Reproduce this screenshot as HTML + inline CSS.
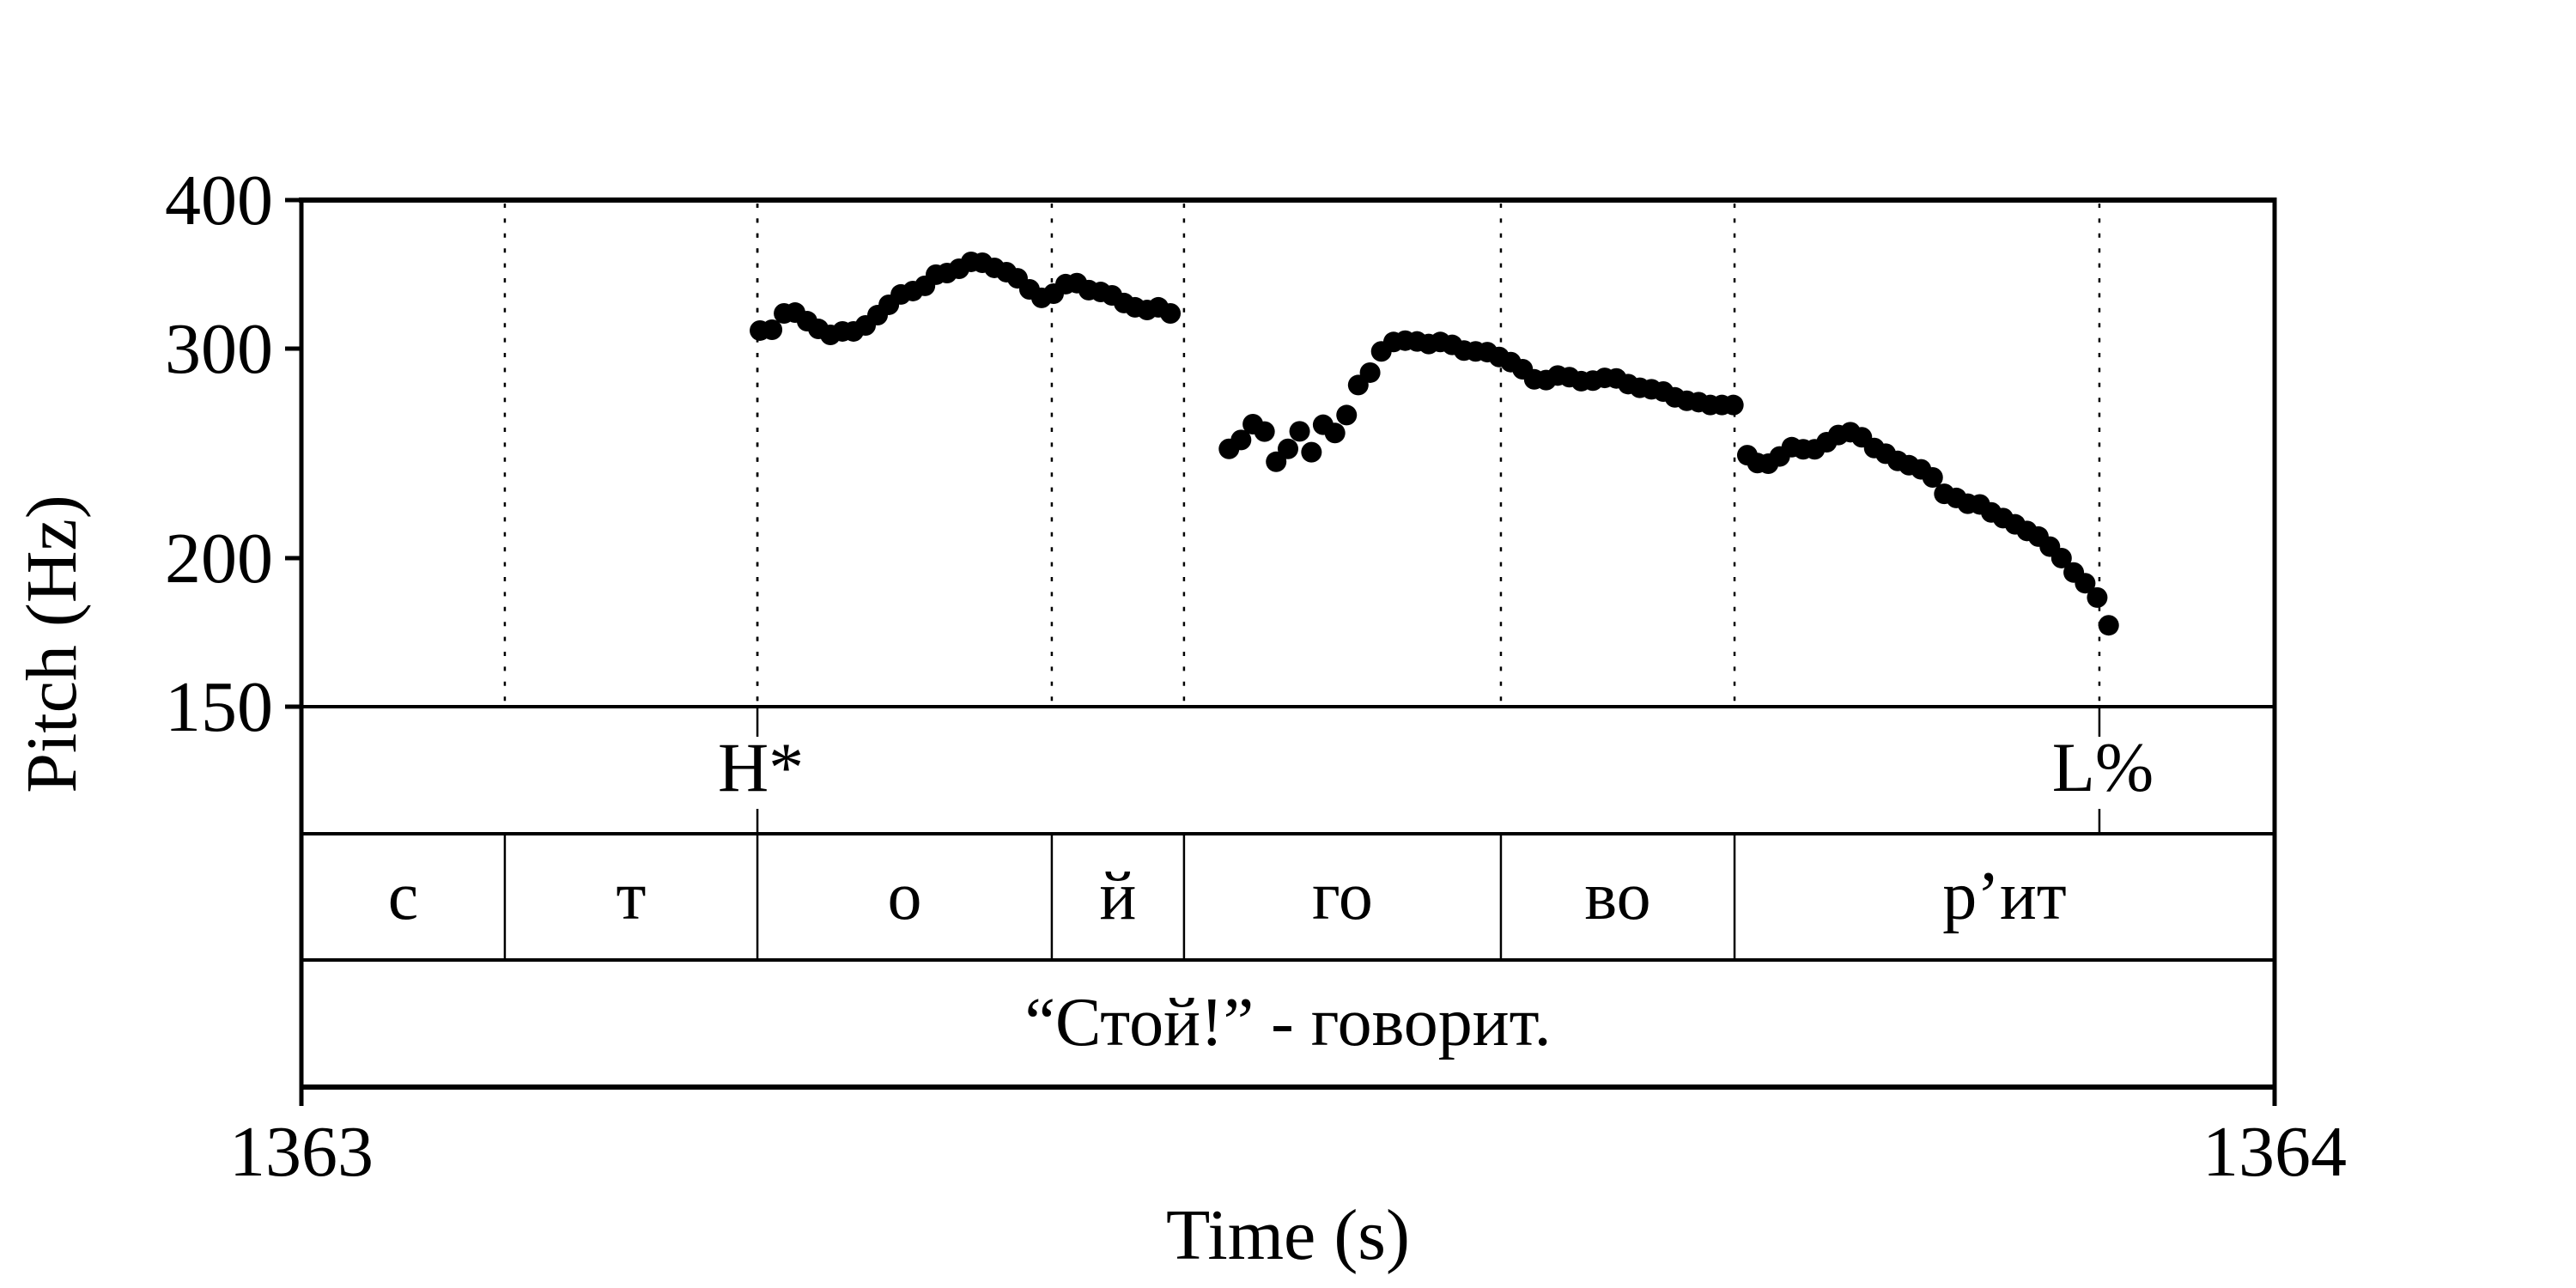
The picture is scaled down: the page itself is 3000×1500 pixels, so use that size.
<!DOCTYPE html>
<html><head><meta charset="utf-8"><style>
html,body{margin:0;padding:0;background:#fff;}
svg{display:block;}
text{font-family:"Liberation Serif","Noto Serif CJK SC",serif;fill:#000;}
</style></head><body>
<svg id="chart" width="3000" height="1500" viewBox="0 0 3000 1500" xmlns="http://www.w3.org/2000/svg">
<g id="frame"></g>
<g id="bounds"></g>
<g id="dots"></g>
<g id="labels"></g>
</svg>
<script>
// ---- data ----
const timeStart = 1363;
const timeEnd = 1364;
const pitchMin = 150;
const pitchMax = 400;
const yTicks = [400, 300, 200, 150];
const xTickLabels = ["1363", "1364"];
const xTicks = [1363, 1364];
// segment boundaries (s offset from 1363)
const segBounds = [0.1031, 0.2311, 0.3803, 0.4473, 0.6079, 0.7263];
const segLabels = ["с", "т", "о", "й", "го", "во", "р’ит"];
const toneTimes = [0.2311, 0.9112];
const toneLabels = ["H*", "L%"];
const sentence = "“Стой!” - говорит.";
// pitch contour: times (s offset) and Hz
const t1 = [0.2324,0.2385,0.2446,0.2502,0.2563,0.2620,0.2681,0.2742,0.2798,0.2859,0.2920,0.2977,0.3038,0.3099,0.3160,0.3216,0.3272,0.3333,0.3394,0.3451,0.3512,0.3573,0.3629,0.3690,0.3751,0.3812,0.3873,0.3930,0.3990,0.4051,0.4108,0.4169,0.4225,0.4286,0.4343,0.4404];
const f1 = [310.7,311.2,321.2,321.7,316.4,311.7,308.1,310.2,310.2,313.8,320.1,326.6,333.2,335.4,338.8,346.2,347.3,350.2,354.9,354.3,350.8,347.9,343.8,336.5,331.0,333.7,339.9,340.6,336.0,334.8,332.6,327.7,325.0,323.3,325.0,321.2];
const t2 = [0.4701,0.4762,0.4822,0.4881,0.4940,0.5000,0.5059,0.5119,0.5178,0.5238,0.5297,0.5356,0.5416,0.5473,0.5535,0.5594,0.5654,0.5713,0.5772,0.5832,0.5892,0.5951,0.6010,0.6070,0.6129,0.6189,0.6248,0.6308,0.6367,0.6426,0.6486,0.6545,0.6605,0.6664,0.6724,0.6783,0.6842,0.6902,0.6961,0.7021,0.7081,0.7140,0.7199,0.7257];
const f2 = [247.1,251.4,259.2,255.5,241.0,247.1,255.6,245.5,258.9,254.8,263.8,279.6,286.4,298.4,303.9,304.7,304.2,302.7,303.9,302.2,298.9,298.4,298.0,295.2,292.3,288.3,282.7,282.3,284.8,283.9,281.7,282.0,283.5,283.2,280.1,278.1,277.3,276.1,273.0,271.2,270.5,269.0,269.0,269.0];
const t3 = [0.7328,0.7379,0.7434,0.7492,0.7553,0.7611,0.7669,0.7730,0.7789,0.7850,0.7908,0.7971,0.8029,0.8090,0.8147,0.8208,0.8267,0.8326,0.8387,0.8445,0.8506,0.8564,0.8624,0.8685,0.8745,0.8803,0.8861,0.8920,0.8982,0.9040,0.9101,0.9159];
const f3 = [244.1,240.4,240.1,243.5,247.9,246.9,246.9,250.3,253.8,255.2,252.7,247.5,244.8,241.4,239.4,237.5,233.8,226.5,224.7,222.2,221.9,218.5,216.1,213.5,210.8,208.5,204.5,200.0,194.5,190.5,185.3,175.6];

// ---- layout ----
const L = 351, R = 2649, T = 233, B = 823;
const tier1 = 971, tier2 = 1118, tier3 = 1266;
const NS = "http://www.w3.org/2000/svg";
function xs(t){ return L + (t - timeStart) / (timeEnd - timeStart) * (R - L); }
function xo(o){ return xs(timeStart + o); }
function ys(f){ return B - Math.log(f / pitchMin) / Math.log(pitchMax / pitchMin) * (B - T); }
function mk(parent, tag, attrs){
  const e = document.createElementNS(NS, tag);
  for (const k in attrs) e.setAttribute(k, attrs[k]);
  parent.appendChild(e); return e;
}
const frame = document.getElementById('frame');
const bounds = document.getElementById('bounds');
const dots = document.getElementById('dots');
const labels = document.getElementById('labels');

// frame lines
let e;
e = mk(frame,'line',{x1:L-3,y1:T,x2:R+2,y2:T,stroke:'#000','stroke-width':6});


e = mk(frame,'line',{x1:L,y1:T,x2:L,y2:1288,stroke:'#000','stroke-width':5});


e = mk(frame,'line',{x1:R,y1:T-3,x2:R,y2:1288,stroke:'#000','stroke-width':5});


[B, tier1, tier2].forEach(function(y){
  const l = mk(frame,'line',{x1:L,y1:y,x2:R,y2:y,stroke:'#000','stroke-width':4});
  
  
});
e = mk(frame,'line',{x1:L,y1:tier3,x2:R,y2:tier3,stroke:'#000','stroke-width':6});



// y ticks
yTicks.forEach(function(v){
  const y = ys(v);
  const tk = mk(frame,'line',{x1:332,y1:y,x2:L,y2:y,stroke:'#000','stroke-width':5});
  
  
  const tx = mk(labels,'text',{x:318,y:y+28,'text-anchor':'end','font-size':84});
  tx.textContent = String(v);
  
  
});
// x tick labels
xTicks.forEach(function(v,i){
  const tx = mk(labels,'text',{x:xs(v),y:1369,'text-anchor':'middle','font-size':84});
  tx.textContent = xTickLabels[i];
  
  
});
// axis titles
e = mk(labels,'text',{x:1500,y:1466,'text-anchor':'middle','font-size':84});
e.textContent = 'Time (s)';


e = mk(labels,'text',{x:0,y:0,'text-anchor':'middle','font-size':84,transform:'translate(88,750) rotate(-90)'});
e.textContent = 'Pitch (Hz)';



// segment boundaries: dotted in pitch panel, solid in segment tier
segBounds.forEach(function(o){
  const x = xo(o);
  const d = mk(bounds,'line',{x1:x,y1:T+4,x2:x,y2:B,stroke:'#000','stroke-width':2.5,'stroke-dasharray':'5 12.4'});
  
  
  const s = mk(bounds,'line',{x1:x,y1:tier1,x2:x,y2:tier2,stroke:'#000','stroke-width':2.5});
  
  
});
// tone marks
toneTimes.forEach(function(o,i){
  const x = xo(o);
  const d = mk(bounds,'line',{x1:x,y1:T+4,x2:x,y2:B,stroke:'#000','stroke-width':2.5,'stroke-dasharray':'5 12.4'});
  
  
  const a = mk(bounds,'line',{x1:x,y1:B,x2:x,y2:858,stroke:'#000','stroke-width':2.5});
  
  
  const b = mk(bounds,'line',{x1:x,y1:942,x2:x,y2:tier1,stroke:'#000','stroke-width':2.5});
  
  
  const tx = mk(labels,'text',{x:x+4,y:921,'text-anchor':'middle','font-size':82});
  tx.textContent = toneLabels[i];
  
  
});
// segment labels
const edges = [0].concat(segBounds).concat([1]);
segLabels.forEach(function(s,i){
  const cx = (xo(edges[i]) + xo(edges[i+1])) / 2;
  const tx = mk(labels,'text',{x:cx,y:1070,'text-anchor':'middle','font-size':80});
  tx.textContent = s;
  
  
});
e = mk(labels,'text',{x:1500,y:1217,'text-anchor':'middle','font-size':80});
e.textContent = sentence;



// pitch points
[[t1,f1],[t2,f2],[t3,f3]].forEach(function(pair){
  pair[0].forEach(function(o,i){
    const c = mk(dots,'circle',{cx:xo(o),cy:ys(pair[1][i]),r:12,fill:'#000'});
    
    
  });
});
</script>
</body></html>
